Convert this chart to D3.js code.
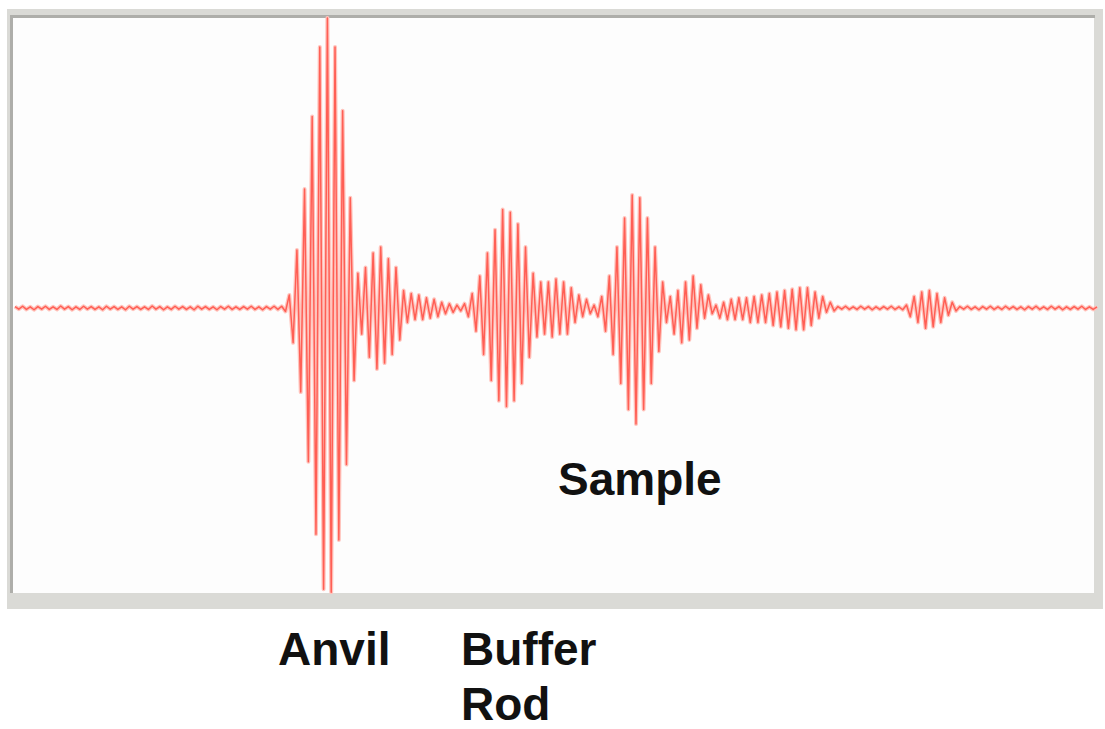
<!DOCTYPE html>
<html>
<head>
<meta charset="utf-8">
<script src="https://cdn.jsdelivr.net/npm/d3@7"></script>
<style>
  body { margin: 0; background: #ffffff; }
  .label { font-family: "Liberation Sans", Arial, Helvetica, sans-serif; font-weight: bold; font-size: 46px; fill: #111111; }
</style>
</head>
<body>
<script>

// half-cycle peak amplitudes (percent of full scale),
// one value every 0.1 us, split by echo
var leadNoise = [
  0.5,-0.4,0.6,-0.5,0.4,-0.6,0.5,-0.4,0.6,-0.5,
  0.4,-0.5,0.7,-0.4,0.5,-0.6,0.4,-0.5,0.6,-0.4,
  0.5,-0.5,0.4,-0.6,0.6,-0.4,0.5,-0.5,0.4,-0.6,
  0.6,-0.4,0.5,-0.5,0.4,-0.5,0.7,-0.4,0.5,-0.6,
  0.4,-0.5,0.6,-0.4,0.5,-0.5,0.4,-0.6,0.6,-0.4,
  0.5,-0.5,0.4,-0.6,0.5,-0.4,0.6,-0.5,0.4,-0.5,
  0.5,-0.4,0.6,-0.5,0.4,-0.6,0.5,-0.4,0.6,-0.5,
  0.6,-1.2
];
var anvilEcho = [
  4.5,-12,20,-29,41,-53,66,-78,90,-97,
  100,-98,90,-80,68,-54,38,-25,12,-9,
  14,-17,19,-21,21,-19,17,-16,14,-11,
  6,-5,5,-4,4.5,-4,3.5,-3.5,3,-3,
  2,-2,1.5,-1.5,1,-1,1.5
];
var bufferEcho = [
  -3,5,-8,11,-16,19,-25,27,-32,34,
  -34,33,-32,29,-26,21,-17,12,-10,9,
  -9,9,-10,10,-9,9,-9,7,-5,4.5,
  -3,3,-2,1
];
var sampleEcho = [
  -3,4,-8,11,-16,21,-26,31,-35,39,
  -40,38,-35,31,-26,21,-15,9,-5,4,
  -9,6,-12,9,-11,11,-7,8,-3.5,4.5,
  -2,1
];
var lateEcho = [
  -3.5,2,-4,3,-4,3.5,-4,3.5,-5,4,
  -5,4.5,-5,5,-6,5.5,-6.5,6,-7,6.5,
  -7.5,7,-7.5,7,-6,5.5,-3.5,4,-1.5,2,
  -1
];
var midNoise = [
  0.5,-0.4,0.6,-0.5,0.4,-0.5,0.6,-0.4,0.5,-0.6,
  0.4,-0.5,0.5,-0.4,0.6,-0.5,0.4,-0.6
];
var tailEcho = [
  1,-3,4,-5,5.5,-7,6,-6.5,5,-5,
  3.5,-2.5,2,-1
];
var tailNoise = [
  0.5,-0.4,0.6,-0.5,0.4,-0.6,0.5,-0.4,0.6,-0.5,
  0.4,-0.5,0.6,-0.4,0.5,-0.5,0.4,-0.6,0.5,-0.4,
  0.6,-0.5,0.4,-0.5,0.6,-0.4,0.5,-0.6,0.4,-0.5,
  0.5,-0.4,0.6,-0.5,0.4,-0.5,0.4
];

var timeStep = 0.1;   // us between samples
var echoLabels = ["Anvil", "Buffer", "Rod", "Sample"];

var width = 1105;
var height = 729;

// join the pieces into one trace
var amplitudes = [].concat(leadNoise, anvilEcho, bufferEcho, sampleEcho,
                           lateEcho, midNoise, tailEcho, tailNoise);
var trace = amplitudes.map(function(a, i) {
  return { t: i * timeStep, a: a };
});

var svg = d3.select("body")
            .append("svg")
            .attr("width", width)
            .attr("height", height);

// window frame
svg.append("rect")
   .attr("x", 7)
   .attr("y", 9)
   .attr("width", 1096)
   .attr("height", 600)
   .attr("fill", "#dadad6");

svg.append("rect")
   .attr("x", 13)
   .attr("y", 18)
   .attr("width", 1081)
   .attr("height", 575)
   .attr("fill", "#fdfdfd");

// darker inner edge on top and left
svg.append("path")
   .attr("d", "M11.5,593 V16.5 H1095")
   .attr("fill", "none")
   .attr("stroke", "#aeaeaa")
   .attr("stroke-width", 3);

// scales
var xScale = d3.scaleLinear()
               .domain([0, d3.max(trace, function(d) { return d.t; })])
               .range([15, 1097]);

var yScale = d3.scaleLinear()
               .domain([-100, 100])
               .range([598, 18]);

var line = d3.line()
             .x(function(d) { return xScale(d.t); })
             .y(function(d) { return yScale(d.a); });

// pale fill between strokes
svg.append("path")
   .datum(trace)
   .attr("d", line)
   .attr("fill", "none")
   .attr("stroke", "#ffc4bd")
   .attr("stroke-width", 4)
   .attr("stroke-linejoin", "round");

// the trace itself
svg.append("path")
   .datum(trace)
   .attr("d", line)
   .attr("fill", "none")
   .attr("stroke", "#ff5f55")
   .attr("stroke-width", 1.5)
   .attr("stroke-linejoin", "round");

// echo labels
var labelPos = [[278, 665], [461, 665], [461, 720], [558, 495]];
svg.selectAll(".label")
   .data(echoLabels)
   .enter()
   .append("text")
   .attr("class", "label")
   .attr("x", function(d, i) { return labelPos[i][0]; })
   .attr("y", function(d, i) { return labelPos[i][1]; })
   .text(function(d) { return d; });

</script>
</body>
</html>
